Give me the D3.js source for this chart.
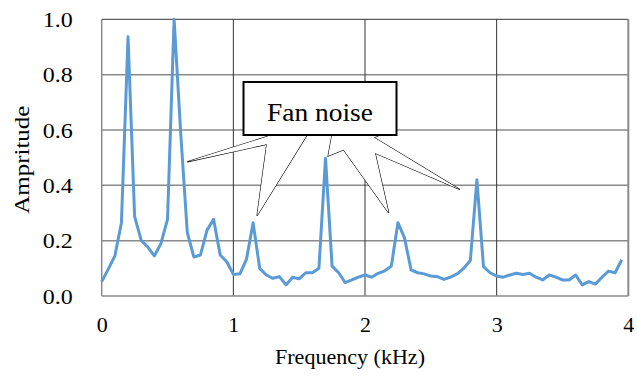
<!DOCTYPE html>
<html>
<head>
<meta charset="utf-8">
<script src="https://cdn.jsdelivr.net/npm/d3@7"></script>
<style>
  html, body { margin: 0; padding: 0; background: #fff; }
  svg { display: block; }
</style>
</head>
<body>
<svg id="chart" width="638" height="378"></svg>
<script>
// ---- data ----
const frequencies = d3.range(80).map(i => +(i * 0.05).toFixed(2)); // 0 .. 3.95 kHz, 0.05 kHz steps
const amplitudes = [
  0.052, 0.097, 0.145, 0.265, 0.937, 0.288, 0.201, 0.177, 0.145, 0.190,
  0.277, 1.000, 0.590, 0.230, 0.141, 0.148, 0.238, 0.277, 0.148, 0.124,
  0.078, 0.080, 0.133, 0.265, 0.100, 0.076, 0.064, 0.070, 0.040, 0.068,
  0.062, 0.084, 0.084, 0.100, 0.498, 0.108, 0.084, 0.048, 0.058, 0.068,
  0.076, 0.068, 0.082, 0.091, 0.108, 0.265, 0.210, 0.094, 0.084, 0.080,
  0.072, 0.070, 0.060, 0.068, 0.080, 0.100, 0.128, 0.420, 0.106, 0.084,
  0.072, 0.068, 0.076, 0.082, 0.078, 0.082, 0.068, 0.058, 0.076, 0.068,
  0.058, 0.058, 0.076, 0.040, 0.052, 0.043, 0.068, 0.090, 0.084, 0.131
];
const xTicks = [0, 1, 2, 3, 4];
const yTicks = [0, 0.2, 0.4, 0.6, 0.8, 1.0];
const xTitle = "Frequency  (kHz)";
const yTitle = "Ampritude";
const calloutText = "Fan noise";
// callout pointer targets (frequency, amplitude)
const calloutTargets = [
  [0.65, 0.485], [1.18, 0.29], [1.72, 0.506], [2.18, 0.30], [2.72, 0.385]
];

// ---- layout ----
const FONT = "Liberation Serif";
const svg = d3.select("#chart").attr("font-family", FONT);
const L = 101.7, R = 628.3, T = 19.3, B = 296;
const x = d3.scaleLinear().domain([0, 4]).range([L, R]);
const y = d3.scaleLinear().domain([0, 1]).range([B, T]);

// horizontal grid
svg.append("g").selectAll("line").data(yTicks.filter(d => d > 0 && d < 1)).join("line")
  .attr("x1", L).attr("x2", R).attr("y1", d => y(d)).attr("y2", d => y(d))
  .attr("stroke", "#8a8a8a").attr("stroke-width", 1.5);
// vertical grid
svg.append("g").selectAll("line").data(xTicks.filter(d => d > 0 && d < 4)).join("line")
  .attr("x1", d => x(d)).attr("x2", d => x(d)).attr("y1", T).attr("y2", B)
  .attr("stroke", "#333").attr("stroke-width", 1);
// frame
svg.append("line").attr("x1", L).attr("x2", R).attr("y1", T).attr("y2", T)
  .attr("stroke", "#333").attr("stroke-width", 1);
svg.append("line").attr("x1", R).attr("x2", R).attr("y1", T).attr("y2", B)
  .attr("stroke", "#8a8a8a").attr("stroke-width", 2);
svg.append("line").attr("x1", L).attr("x2", L).attr("y1", T).attr("y2", B)
  .attr("stroke", "#8a8a8a").attr("stroke-width", 1.5);
svg.append("line").attr("x1", L).attr("x2", R).attr("y1", B).attr("y2", B)
  .attr("stroke", "#8a8a8a").attr("stroke-width", 1.5);

// axes labels via d3 axes (domain & ticks hidden)
const yAxis = svg.append("g").attr("transform", `translate(${L},0)`)
  .call(d3.axisLeft(y).tickValues(yTicks).tickFormat(d3.format(".1f")).tickSize(0).tickPadding(29));
const xAxis = svg.append("g").attr("transform", `translate(0,${B})`)
  .call(d3.axisBottom(x).tickValues(xTicks).tickFormat(d3.format("d")).tickSize(0).tickPadding(20));
[yAxis, xAxis].forEach(g => {
  g.attr("font-family", FONT).attr("font-size", 22);
  g.select(".domain").remove();
  g.selectAll("text").attr("font-family", FONT).attr("font-size", 22).attr("fill", "#000");
});
yAxis.selectAll("text").attr("textLength", 30).attr("lengthAdjust", "spacingAndGlyphs");

// titles
svg.append("text").attr("x", 350).attr("y", 364).attr("text-anchor", "middle")
  .attr("font-family", FONT).attr("font-size", 22)
  .attr("textLength", 150).attr("lengthAdjust", "spacingAndGlyphs").text(xTitle);
svg.append("text").attr("transform", `translate(29,${(T + B) / 2 + 2}) rotate(-90)`).attr("text-anchor", "middle")
  .attr("font-family", FONT).attr("font-size", 22)
  .attr("textLength", 108).attr("lengthAdjust", "spacingAndGlyphs").text(yTitle);

// data line
const line = d3.line().x((d, i) => x(frequencies[i])).y(d => y(d));
svg.append("path").datum(amplitudes)
  .attr("d", line).attr("fill", "none")
  .attr("stroke", "#5b9bd5").attr("stroke-width", 3).attr("stroke-linejoin", "round");

// callout
const box = { x0: 243.5, x1: 396.5, y0: 82, y1: 135 };
const bases = [[272, 309], [268, 307], [332, 380], [333, 371], [333, 370]];
const tails = calloutTargets.map((t, i) => [
  [bases[i][0], box.y1], [x(t[0]), y(t[1])], [bases[i][1], box.y1]
]);
const cg = svg.append("g");
cg.selectAll("path.ts").data(tails).join("path").attr("class", "ts")
  .attr("d", d => "M" + d.join("L") + "Z")
  .attr("fill", "#fff").attr("stroke", "#000").attr("stroke-width", 1.2);
cg.selectAll("path.tf").data(tails).join("path").attr("class", "tf")
  .attr("d", d => "M" + d.join("L") + "Z")
  .attr("fill", "#fff").attr("stroke", "none");
cg.append("rect").attr("x", box.x0).attr("y", box.y0)
  .attr("width", box.x1 - box.x0).attr("height", box.y1 - box.y0)
  .attr("fill", "#fff").attr("stroke", "#000").attr("stroke-width", 2);
cg.append("text").attr("x", (box.x0 + box.x1) / 2).attr("y", 120.5)
  .attr("text-anchor", "middle")
  .attr("font-family", FONT).attr("font-size", 25)
  .attr("textLength", 106).attr("lengthAdjust", "spacingAndGlyphs")
  .text(calloutText);
</script>
</body>
</html>
